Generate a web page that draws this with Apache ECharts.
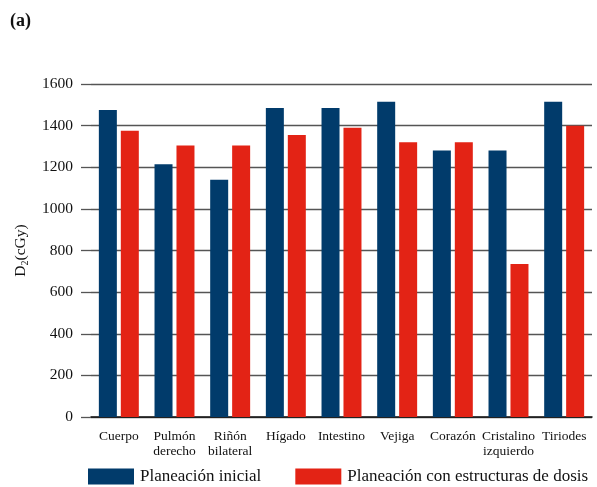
<!DOCTYPE html>
<html>
<head>
<meta charset="utf-8">
<script src="https://cdn.jsdelivr.net/npm/echarts@6/dist/echarts.min.js"></script>
<style>
  html, body { margin: 0; padding: 0; background: #fff; }
  #chart { width: 597px; height: 487px; }
</style>
</head>
<body>
<div id="chart"></div>
<script>
// Organ names (two-line where the label wraps)
const categories = [
  'Cuerpo', 'Pulmón\nderecho', 'Riñón\nbilateral', 'Hígado', 'Intestino',
  'Vejiga', 'Corazón', 'Cristalino\nizquierdo', 'Tiriodes'
];
// D2 in cGy for each plan
const planInicial = [1475, 1215, 1140, 1485, 1485, 1515, 1280, 1280, 1515];
const planEstructuras = [1375, 1305, 1305, 1355, 1390, 1320, 1320, 735, 1400];
const seriesNames = ['Planeación inicial', 'Planeación con estructuras de dosis'];
const yTicks = [0, 200, 400, 600, 800, 1000, 1200, 1400, 1600];

const serif = '"Liberation Serif", "DejaVu Serif", serif';
const chart = echarts.init(document.getElementById('chart'));

chart.setOption({
  animation: false,
  textStyle: { fontFamily: serif },
  graphic: [{
    type: 'text', left: 10, top: 12,
    style: { text: '(a)', font: 'bold 18px ' + serif, fill: '#111' }
  }],
  legend: {
    bottom: 2, left: 88, width: 509, padding: 0,
    itemWidth: 46, itemHeight: 16, itemGap: 34,
    icon: 'rect',
    textStyle: { fontFamily: serif, fontSize: 17, color: '#111', padding: [0, 0, 0, 1] },
    data: seriesNames
  },
  grid: { left: 91, right: 5, top: 84, bottom: 70, containLabel: false },
  xAxis: {
    type: 'category',
    data: categories,
    axisLine: { lineStyle: { color: '#111', width: 1.5 } },
    axisTick: { show: false },
    axisLabel: {
      color: '#111', fontSize: 13.5, fontFamily: serif,
      margin: 12, lineHeight: 15, interval: 0
    }
  },
  yAxis: {
    type: 'value',
    min: yTicks[0], max: yTicks[yTicks.length - 1], interval: 200,
    name: '{d|D}{s|2}{d|(cGy)}',
    nameLocation: 'middle',
    nameGap: 61,
    nameTextStyle: {
      rich: {
        d: { fontSize: 15.5, fontFamily: serif, color: '#111' },
        s: { fontSize: 10, fontFamily: serif, color: '#111', verticalAlign: 'bottom', padding: [8, 0, 0, 0] }
      }
    },
    axisLine: { show: false },
    axisTick: { show: true, length: 10, lineStyle: { color: '#555', width: 1.3 } },
    axisLabel: {
      color: '#111', fontSize: 15.5, fontFamily: serif, margin: 18,
      formatter: function (v) { return String(v); }
    },
    splitLine: { show: true, lineStyle: { color: '#555', width: 1.3 } }
  },
  series: [
    {
      name: seriesNames[0], type: 'bar', data: planInicial,
      barWidth: 18, barGap: '22%',
      itemStyle: { color: '#013b6b' }
    },
    {
      name: seriesNames[1], type: 'bar', data: planEstructuras,
      barWidth: 18,
      itemStyle: { color: '#e32315' }
    }
  ]
});
</script>
</body>
</html>
